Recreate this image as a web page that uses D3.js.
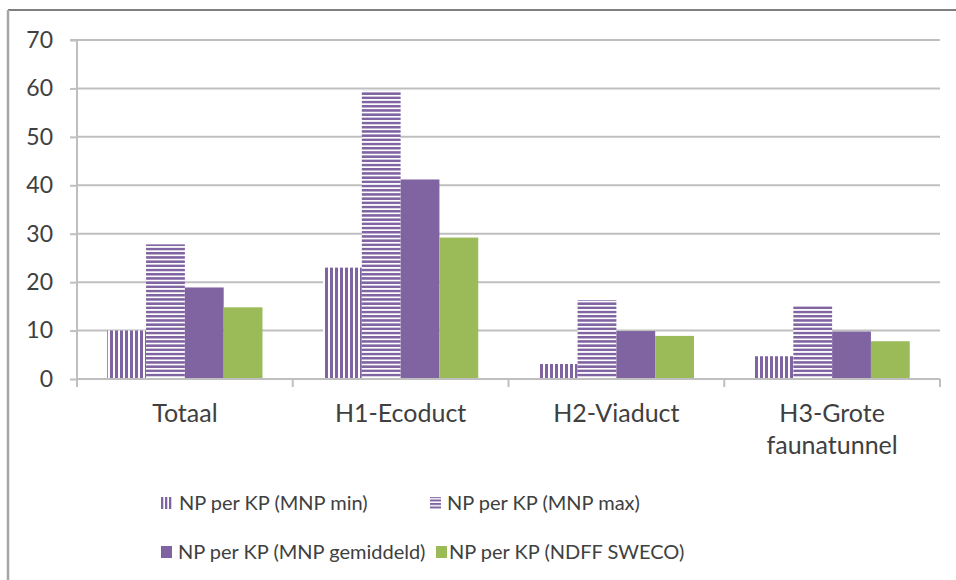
<!DOCTYPE html>
<html><head><meta charset="utf-8">
<script src="https://cdn.jsdelivr.net/npm/d3@7/dist/d3.min.js"></script>
<style>body{margin:0;background:#fff}svg{display:block}text{font-family:Lato,"Open Sans",sans-serif;fill:#404040}</style>
</head><body>
<script>
const categories = [["Totaal"], ["H1-Ecoduct"], ["H2-Viaduct"], ["H3-Grote", "faunatunnel"]];
const seriesNames = ["NP per KP (MNP min)", "NP per KP (MNP max)", "NP per KP (MNP gemiddeld)", "NP per KP (NDFF SWECO)"];
const mnpMin = [10, 23, 3.1, 4.7];
const mnpMax = [27.8, 59.5, 16.3, 15.1];
const mnpGem = [18.9, 41.2, 9.9, 9.8];
const ndff = [14.8, 29.2, 8.9, 7.8];
const yTicks = [0, 10, 20, 30, 40, 50, 60, 70];

const W = 956, H = 580;
const svg = d3.select("body").append("svg").attr("width", W).attr("height", H);
const defs = svg.append("defs");
const purple = "#8064A2", green = "#9BBB59";
const pv = defs.append("pattern").attr("id", "pv").attr("patternUnits", "userSpaceOnUse").attr("width", 5).attr("height", 5);
pv.append("rect").attr("width", 5).attr("height", 5).attr("fill", "#fff");
pv.append("rect").attr("width", 3).attr("height", 5).attr("fill", purple);
const ph = defs.append("pattern").attr("id", "ph").attr("patternUnits", "userSpaceOnUse").attr("width", 4.2).attr("height", 4.2);
ph.append("rect").attr("width", 4.2).attr("height", 4.2).attr("fill", "#fff");
ph.append("rect").attr("width", 4.2).attr("height", 2.5).attr("fill", purple);
const lv = defs.append("pattern").attr("id", "lv").attr("patternUnits", "userSpaceOnUse").attr("width", 4).attr("height", 4);
lv.append("rect").attr("width", 4).attr("height", 4).attr("fill", "#fff");
lv.append("rect").attr("width", 2.3).attr("height", 4).attr("fill", purple);
const lh = defs.append("pattern").attr("id", "lh").attr("patternUnits", "userSpaceOnUse").attr("width", 4).attr("height", 3.5);
lh.append("rect").attr("width", 4).attr("height", 3.5).attr("fill", "#fff");
lh.append("rect").attr("width", 4).attr("height", 2).attr("fill", purple);
const fills = ["url(#pv)", "url(#ph)", purple, green];
const legFills = ["url(#lv)", "url(#lh)", purple, green];

// frame
svg.append("line").attr("x1", 8).attr("x2", W).attr("y1", 10).attr("y2", 10).attr("stroke", "#7f7f7f").attr("stroke-width", 2);
svg.append("line").attr("x1", 8).attr("x2", 8).attr("y1", 10).attr("y2", H).attr("stroke", "#a6a6a6").attr("stroke-width", 2.5);

const x0 = 77, x1 = 940, yTop = 40, yBot = 379;
const x = d3.scaleBand().domain(d3.range(categories.length)).range([x0, x1]).paddingInner(0).paddingOuter(0);
const y = d3.scaleLinear().domain([0, 70]).range([yBot, yTop]);
const inner = d3.scaleBand().domain(d3.range(4)).range([0, x.bandwidth()]).paddingOuter(0.78).paddingInner(0);

// gridlines
svg.append("g").selectAll("line").data(yTicks.filter(d => d > 0)).join("line")
  .attr("x1", x0).attr("x2", x1).attr("y1", d => y(d)).attr("y2", d => y(d))
  .attr("stroke", "#bfbfbf").attr("stroke-width", 2);

// bars
const data = [mnpMin, mnpMax, mnpGem, ndff];
data.forEach((vals, s) => {
  svg.append("g").selectAll("rect").data(vals).join("rect")
    .attr("x", (d, i) => x(i) + inner(s))
    .attr("width", inner.bandwidth())
    .attr("y", d => y(d)).attr("height", d => y(0) - y(d))
    .attr("fill", fills[s]);
});

// y axis
const ya = d3.axisLeft(y).tickValues(yTicks).tickSize(7).tickPadding(17);
const gy = svg.append("g").attr("transform", `translate(${x0},0)`).call(ya);
gy.select(".domain").attr("stroke", "#bfbfbf").attr("stroke-width", 2).attr("d", `M-7,${yTop}H0V${yBot}`);
gy.selectAll(".tick line").attr("stroke", "#bfbfbf").attr("stroke-width", 2);
gy.selectAll(".tick text").style("font-size", "23px").style("font-family", "Lato").attr("fill", "#404040");

// x axis
svg.append("line").attr("x1", x0).attr("x2", x1).attr("y1", yBot).attr("y2", yBot).attr("stroke", "#bfbfbf").attr("stroke-width", 2);
const bounds = d3.range(categories.length + 1).map(i => x0 + i * x.bandwidth());
svg.append("g").selectAll("line").data(bounds).join("line")
  .attr("x1", d => d).attr("x2", d => d).attr("y1", yBot).attr("y2", yBot + 8)
  .attr("stroke", "#bfbfbf").attr("stroke-width", 2);
const xl = svg.append("g").selectAll("text").data(categories).join("text")
  .attr("x", (d, i) => x(i) + x.bandwidth() / 2).attr("y", 422)
  .attr("text-anchor", "middle").style("font-size", "25px");
xl.selectAll("tspan").data(d => d).join("tspan")
  .attr("x", function () { return d3.select(this.parentNode).attr("x"); })
  .attr("dy", (d, i) => i === 0 ? 0 : 32).text(d => d);

// legend
const legPos = [[161, 503], [430, 503], [161, 552], [436, 552]];
const legText = [18, 17, 17, 13];
const lg = svg.append("g").selectAll("g").data(seriesNames).join("g")
  .attr("transform", (d, i) => `translate(${legPos[i][0]},${legPos[i][1]})`);
lg.append("rect").attr("x", 0).attr("y", -6).attr("width", 11).attr("height", 12).attr("fill", (d, i) => legFills[i]);
lg.append("text").attr("x", (d, i) => legText[i]).attr("y", 0).attr("dy", "0.36em").style("font-size", "20px").text(d => d);
</script>
</body></html>
